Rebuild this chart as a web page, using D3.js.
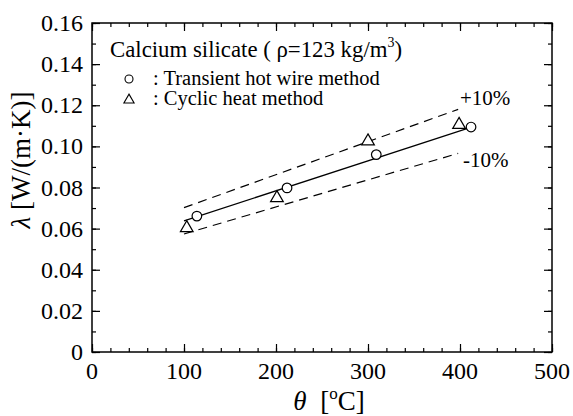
<!DOCTYPE html>
<html>
<head>
<meta charset="utf-8">
<script src="https://cdn.jsdelivr.net/npm/d3@7"></script>
<style>
	html, body { margin: 0; padding: 0; background: #fff; }
	svg text { font-family: "Liberation Serif", "Times New Roman", serif; fill: #000; }
</style>
</head>
<body>
<div id="chart"></div>
<script>
// transient hot wire method (circles)
const hotWireTheta = [114, 212, 309, 412];
const hotWireLambda = [0.0661, 0.0798, 0.0960, 0.1094];
// cyclic heat method (triangles)
const cyclicTheta = [103, 201, 300, 399];
const cyclicLambda = [0.0608, 0.0754, 0.1030, 0.1110];
// fitted line and +/-10% band (end points)
const fitTheta = [100, 410];
const fitLambda = [0.0638, 0.1090];
const bandTheta = [100, 398];
const upperLambda = [0.0702, 0.1180];
const lowerLambda = [0.0574, 0.0966];

const xTicks = [0, 100, 200, 300, 400, 500];
const yTicks = [0, 0.02, 0.04, 0.06, 0.08, 0.10, 0.12, 0.14, 0.16];

const W = 573, H = 416;
const margin = {top: 23, right: 21, bottom: 64, left: 92};
const w = W - margin.left - margin.right;
const h = H - margin.top - margin.bottom;

const svg = d3.select('#chart').append('svg')
	.attr('width', W)
	.attr('height', H)
	.attr('font-family', '"Liberation Serif", serif');
const g = svg.append('g')
	.attr('transform', 'translate(' + margin.left + ',' + margin.top + ')');

const x = d3.scaleLinear().domain([0, 500]).range([0, w]);
const y = d3.scaleLinear().domain([0, 0.16]).range([h, 0]);

// minor + major ticks, pointing inwards on all four sides
const minorX = d3.range(0, 501, 20);
const minorY = d3.range(0, 0.1601, 0.01);

function tickSide(axis, vals, size) {
	return axis.tickValues(vals).tickSizeInner(size).tickSizeOuter(0).tickFormat('');
}

const axes = [
	[d3.axisBottom(x), minorX, -4, 'translate(0,' + h + ')'],
	[d3.axisBottom(x), xTicks, -8, 'translate(0,' + h + ')'],
	[d3.axisTop(x), minorX, -4, null],
	[d3.axisTop(x), xTicks, -8, null],
	[d3.axisLeft(y), minorY, -4, null],
	[d3.axisLeft(y), yTicks, -8, null],
	[d3.axisRight(y), minorY, -4, 'translate(' + w + ',0)'],
	[d3.axisRight(y), yTicks, -8, 'translate(' + w + ',0)']
];
axes.forEach(a => {
	const ag = g.append('g').call(tickSide(a[0], a[1], a[2]));
	if (a[3]) ag.attr('transform', a[3]);
	ag.select('.domain').remove();
	ag.selectAll('line').attr('stroke', '#000').attr('stroke-width', 1.2);
	ag.selectAll('text').remove();
});

g.append('rect')
	.attr('width', w).attr('height', h)
	.attr('fill', 'none').attr('stroke', '#000').attr('stroke-width', 1.5);

// tick labels
g.selectAll('.xl').data(xTicks).enter().append('text')
	.attr('x', d => x(d)).attr('y', h + 27)
	.attr('text-anchor', 'middle')
	.attr('font-size', 24)
	.text(d => d);
g.selectAll('.yl').data(yTicks).enter().append('text')
	.attr('x', -9).attr('y', d => y(d) + 8)
	.attr('text-anchor', 'end')
	.attr('font-size', 24)
	.text(d => d === 0 ? '0' : d3.format('.2f')(d));

// axis titles
const xt = svg.append('text')
	.attr('x', 329).attr('y', 410)
	.attr('text-anchor', 'middle')
	.attr('font-size', 27);
xt.append('tspan').attr('font-style', 'italic').text('θ');
xt.append('tspan').text('\u2002[');
xt.append('tspan').attr('font-size', 17).attr('dy', -11).text('o');
xt.append('tspan').attr('dy', 11).text('C]');

svg.append('text')
	.attr('transform', 'translate(30,160) rotate(-90)')
	.attr('text-anchor', 'middle')
	.attr('font-size', 27)
	.call(t => {
		t.append('tspan').attr('font-style', 'italic').text('λ');
		t.append('tspan').text(' [W/(m·K)]');
	});

// fit line and band
const line = d3.line().x(d => x(d[0])).y(d => y(d[1]));
g.append('path')
	.attr('d', line(d3.zip(fitTheta, fitLambda)))
	.attr('fill', 'none').attr('stroke', '#000').attr('stroke-width', 1.2);
[upperLambda, lowerLambda].forEach(v => {
	g.append('path')
		.attr('d', line(d3.zip(bandTheta, v)))
		.attr('fill', 'none').attr('stroke', '#000').attr('stroke-width', 1.2)
		.attr('stroke-dasharray', '9,6');
});

// markers
const tri = d3.symbol().type(d3.symbolTriangle).size(70);
g.selectAll('.tri').data(d3.zip(cyclicTheta, cyclicLambda)).enter().append('path')
	.attr('d', tri)
	.attr('transform', d => 'translate(' + x(d[0]) + ',' + (y(d[1]) + 1) + ')')
	.attr('fill', '#fff').attr('stroke', '#000').attr('stroke-width', 1.2);
g.selectAll('.circ').data(d3.zip(hotWireTheta, hotWireLambda)).enter().append('circle')
	.attr('cx', d => x(d[0])).attr('cy', d => y(d[1]))
	.attr('r', 4.8)
	.attr('fill', '#fff').attr('stroke', '#000').attr('stroke-width', 1.2);

// band labels
svg.append('text').attr('x', 460).attr('y', 105).attr('font-size', 21).text('+10%');
svg.append('text').attr('x', 463).attr('y', 167).attr('font-size', 21).text('-10%');

// legend
const title = svg.append('text').attr('x', 110).attr('y', 57).attr('font-size', 22.8);
title.append('tspan').text('Calcium silicate ( ρ=123 kg/m');
title.append('tspan').attr('font-size', 14).attr('dy', -10).text('3');
title.append('tspan').attr('dy', 10).text(')');

svg.append('circle').attr('cx', 129).attr('cy', 79).attr('r', 4)
	.attr('fill', '#fff').attr('stroke', '#000').attr('stroke-width', 1.1);
svg.append('path').attr('d', d3.symbol().type(d3.symbolTriangle).size(45))
	.attr('transform', 'translate(129,100)')
	.attr('fill', '#fff').attr('stroke', '#000').attr('stroke-width', 1.1);
svg.append('text').attr('x', 153).attr('y', 85).attr('font-size', 20.5).text(': Transient hot wire method');
svg.append('text').attr('x', 153).attr('y', 105).attr('font-size', 20.5).text(': Cyclic heat method');
</script>
</body>
</html>
